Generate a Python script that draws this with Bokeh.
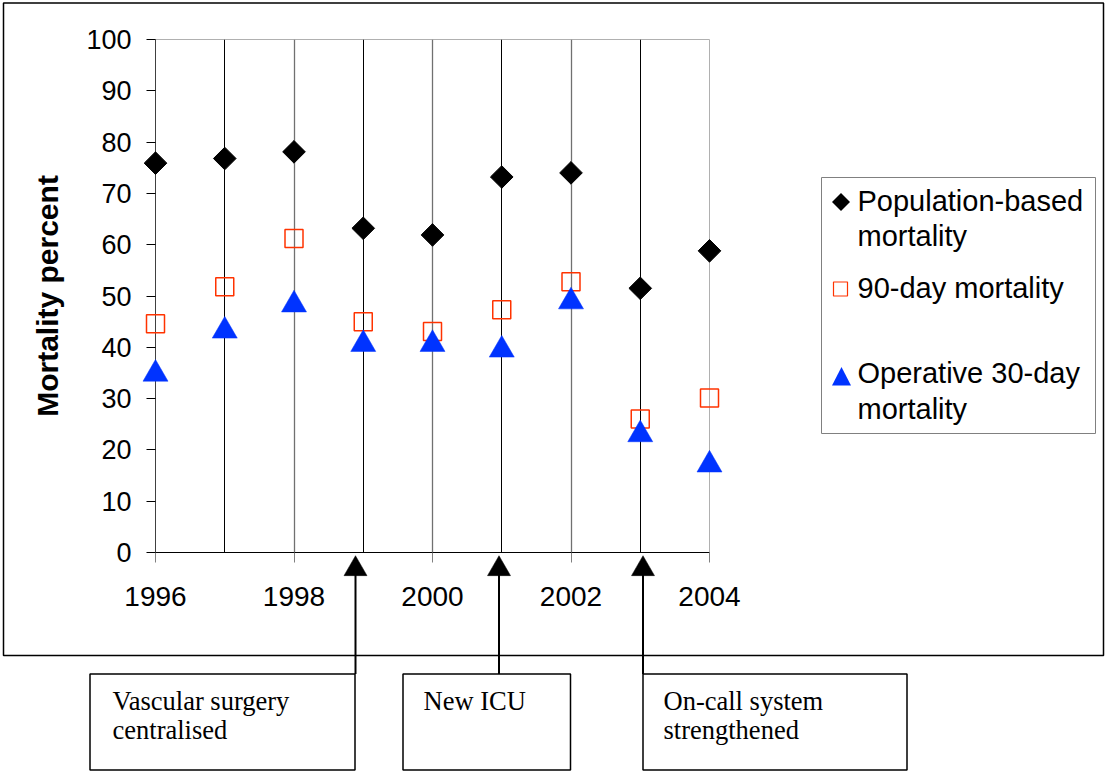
import numpy as np
from bokeh.plotting import figure
from bokeh.models import FixedTicker, Range1d, ColumnDataSource
from bokeh.core.properties import value
from bokeh.embed import file_html
from bokeh.resources import INLINE

# ---------------- data ----------------
years = [1996, 1997, 1998, 1999, 2000, 2001, 2002, 2003, 2004]
population_mortality = [75.9, 76.8, 78.1, 63.2, 61.9, 73.2, 74.0, 51.5, 58.8]
day90_mortality = [44.6, 51.8, 61.2, 45.0, 43.1, 47.3, 52.8, 26.0, 30.1]
operative30_mortality = [34.8, 43.2, 48.3, 40.6, 40.6, 39.5, 48.9, 23.0, 17.1]

x_tick_labels = [1996, 1998, 2000, 2002, 2004]
x_minor = [1997, 1999, 2001, 2003]
y_ticks = [0, 10, 20, 30, 40, 50, 60, 70, 80, 90, 100]

legend_lines = [["Population-based", "mortality"], ["90-day mortality"],
                ["Operative 30-day", "mortality"]]

events = [["Vascular surgery", "centralised"], ["New ICU"], ["On-call system", "strengthened"]]
event_years = [1999, 2001, 2003]

source = ColumnDataSource(dict(year=years, pop=population_mortality,
                               d90=day90_mortality, op30=operative30_mortality))

# ---------------- layout geometry ----------------
W, H = 1105, 771
FL, FT, FW, FH = 155, 39, 554, 513   # frame in canvas px

p = figure(width=W, height=H, output_backend="svg", toolbar_location=None,
           x_range=Range1d(1996, 2004), y_range=Range1d(0, 100),
           min_border_left=FL, min_border_top=FT,
           min_border_right=W - FL - FW, min_border_bottom=H - FT - FH,
           frame_width=FW, frame_height=FH)
p.background_fill_color = "white"
p.border_fill_color = "white"
p.outline_line_color = "#b0b0b0"
p.outline_line_width = 1

# canvas px -> data helpers for decoration placed outside the frame
def dx(px):
    return 1996 + (px - FL) * 8.0 / FW

def dy(py):
    return (FT + FH - py) * 100.0 / FH

# ---------------- axes ----------------
FONT = "Liberation Sans"
xa = p.xaxis[0]
xa.ticker = FixedTicker(ticks=x_tick_labels, minor_ticks=x_minor)
xa.major_tick_out = 10
xa.major_tick_in = 0
xa.minor_tick_out = 0
xa.minor_tick_in = 0
xa.axis_line_color = "black"
xa.major_tick_line_color = "#808080"
xa.major_label_text_font = FONT
xa.major_label_text_font_size = "28px"
xa.major_label_text_color = "black"
xa.major_label_standoff = 24

ya = p.yaxis[0]
ya.ticker = FixedTicker(ticks=y_ticks)
ya.major_tick_out = 9
ya.major_tick_in = 0
ya.minor_tick_out = 0
ya.minor_tick_in = 0
ya.axis_line_color = "#404040"
ya.major_tick_line_color = "black"
ya.major_label_text_font = FONT
ya.major_label_text_font_size = "27px"
ya.major_label_text_color = "black"
ya.major_label_standoff = 15
ya.axis_label = "Mortality percent"
ya.axis_label_text_font = FONT
ya.axis_label_text_font_size = "30px"
ya.axis_label_text_font_style = "bold"
ya.axis_label_text_color = "black"
ya.axis_label_standoff = 19

p.xgrid.grid_line_color = "#707070"
p.xgrid.grid_line_width = 1.3
p.xgrid.minor_grid_line_color = "black"
p.ygrid.grid_line_color = None

# ---------------- series ----------------
BLUE = "#0033FF"
RED = "#FF3300"
p.scatter("year", "pop", source=source, marker="square", angle=np.pi / 4,
          size=16, fill_color="black", line_color="black", level="overlay")
p.scatter("year", "d90", source=source, marker="square", size=18,
          fill_color=None, line_color=RED, line_width=1.5, level="overlay")
p.scatter("year", "op30", source=source, marker="triangle", size=25,
          fill_color=BLUE, line_color=BLUE, line_width=0.5, level="overlay")

# ---------------- legend (boxed key right of the plot) ----------------
p.quad(left=[dx(821)], right=[dx(1095)], top=[dy(177)], bottom=[dy(433)],
       fill_color="white", line_color="#808080", line_width=1, level="overlay")
# key swatches: diamond, hollow square, triangle
p.varea(x=[dx(831.5), dx(840.5), dx(849.5)],
        y1=[dy(201.5), dy(210.5), dy(201.5)], y2=[dy(201.5), dy(192.5), dy(201.5)],
        fill_color="black", level="overlay")
p.quad(left=[dx(833)], right=[dx(847)], top=[dy(281.5)], bottom=[dy(295.5)],
       fill_color=None, line_color=RED, line_width=1.2, level="overlay")
p.varea(x=[dx(831.5), dx(841), dx(850.5)],
        y1=[dy(385), dy(385), dy(385)], y2=[dy(385), dy(366.5), dy(385)],
        fill_color=BLUE, level="overlay")
legend_mid = [[200, 235], [287], [372, 408]]
lx, ly, lt = [], [], []
for lines, mids in zip(legend_lines, legend_mid):
    for line, m in zip(lines, mids):
        lx.append(dx(857))
        ly.append(dy(m))
        lt.append(line)
p.text(x=lx, y=ly, text=lt, text_font=value(FONT), text_font_size="29px",
       text_color="black", text_baseline="middle", level="overlay")

# ---------------- outer border ----------------
p.quad(left=[dx(3)], right=[dx(1103)], top=[dy(2.5)], bottom=[dy(655)],
       fill_color=None, line_color="black", line_width=1.5, level="overlay")

# ---------------- event boxes & arrows ----------------
box_l = [89.5, 402.5, 642.5]
box_r = [354.5, 570, 906.5]
arrow_px = [355, 498.5, 642.5]
text_left = [112, 423, 663]

p.quad(left=[dx(v) for v in box_l], right=[dx(v) for v in box_r],
       top=[dy(673.5)] * 3, bottom=[dy(769.5)] * 3,
       fill_color=None, line_color="black", line_width=1.5, level="overlay")
p.segment(x0=[dx(v) for v in arrow_px], y0=[dy(673.5)] * 3,
          x1=[dx(v) for v in arrow_px], y1=[dy(572)] * 3,
          line_color="black", line_width=2, level="overlay")
p.scatter(x=[dx(v) for v in arrow_px], y=[dy(568.5)] * 3, marker="triangle", size=23,
          fill_color="black", line_color="black", line_width=0.5, level="overlay")

tx, ty, tt = [], [], []
for i, ev in enumerate(events):
    for j, line in enumerate(ev):
        tx.append(dx(text_left[i]))
        ty.append(dy(700 + 29.5 * j))
        tt.append(line)
p.text(x=tx, y=ty, text=tt, text_font=value("Liberation Serif"), text_font_size="26.5px",
       text_color="black", text_baseline="middle", level="overlay")

open("out.html", "w").write(file_html(p, INLINE))
